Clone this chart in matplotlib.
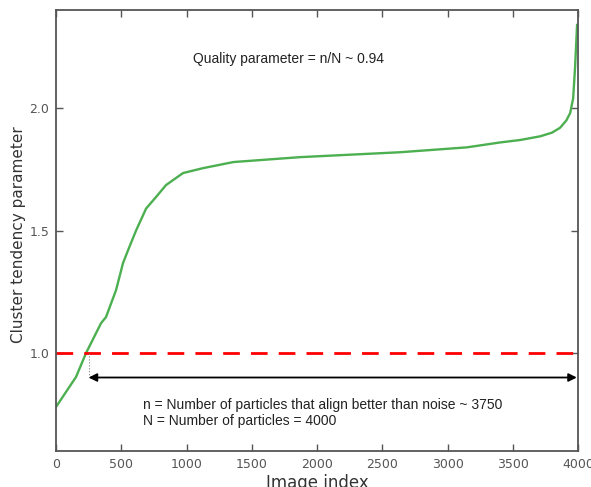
import numpy as np
import matplotlib
matplotlib.use('Agg')
import matplotlib.pyplot as plt

# curve
image_index = [0, 153, 230, 345, 383, 460, 513, 552, 613, 690, 766, 843, 973, 1126,
               1360, 1870, 2636, 3149, 3402, 3556, 3709, 3800, 3862, 3910, 3939,
               3962, 3977, 3992]
tendency = [0.78, 0.902, 1.0, 1.122, 1.147, 1.257, 1.367, 1.42, 1.50, 1.59, 1.637,
            1.686, 1.735, 1.755, 1.78, 1.80, 1.82, 1.84, 1.86, 1.87, 1.885, 1.90,
            1.92, 1.95, 1.98, 2.04, 2.17, 2.34]

noise_level = 1.0
n_good = 3750
n_total = 4000
cross_x = 250
arrow_y = 0.9

x_ticks = [0, 500, 1000, 1500, 2000, 2500, 3000, 3500, 4000]
y_ticks = [1.0, 1.5, 2.0]

fig = plt.figure(figsize=(5.91, 4.87), dpi=100)
ax = fig.add_axes([0.0948, 0.074, 0.8834, 0.905])

ax.plot(image_index, tendency, color='#4caf50', lw=1.7)
ax.axhline(noise_level, color='red', ls='--', lw=2, dashes=(6, 4))
ax.plot([cross_x, cross_x], [noise_level, arrow_y], color='gray', ls=':', lw=0.8)
ax.annotate('', xy=(cross_x, arrow_y), xytext=(n_total - 10, arrow_y),
            arrowprops=dict(arrowstyle='<|-|>', color='black', lw=1.3,
                            mutation_scale=12, shrinkA=0, shrinkB=0))

txt = dict(family='Liberation Sans', fontsize=10, color='#222222')
ax.text(1050, 2.2, 'Quality parameter = n/N ~ %.2f' % (n_good / n_total), va='center', **txt)
ax.text(667, 0.788, 'n = Number of particles that align better than noise ~ %d' % n_good,
        va='center', **txt)
ax.text(667, 0.722, 'N = Number of particles = %d' % n_total, va='center', **txt)

ax.set_xlim(0, 4000)
ax.set_ylim(0.6, 2.4)
ax.set_xticks(x_ticks)
ax.set_yticks(y_ticks)
ax.tick_params(direction='in', top=True, right=True, length=5, width=1,
               color='#555555', labelsize=9, labelcolor='#555555', pad=5)
for s in ax.spines.values():
    s.set_color('#555555')
    s.set_linewidth(1.3)

ax.set_xlabel('Image index', fontsize=12, color='#333333', labelpad=2)
ax.set_ylabel('Cluster tendency parameter', fontsize=11, color='#333333')
ax.yaxis.set_label_coords(-0.058, 0.49)

fig.savefig('out.png', dpi=100)
